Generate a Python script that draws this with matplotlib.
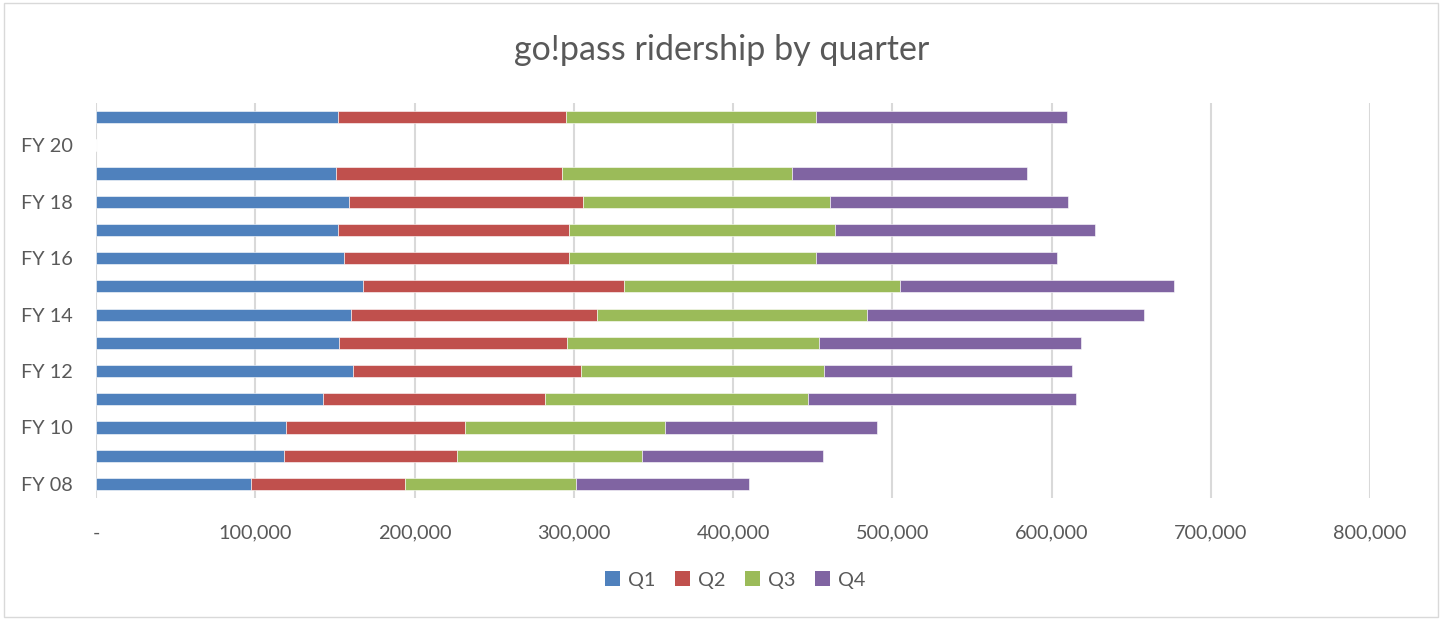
import matplotlib
matplotlib.use("Agg")
import matplotlib.pyplot as plt
from matplotlib.patches import Rectangle, Patch
from matplotlib.ticker import FuncFormatter
import numpy as np

# Данные по кварталам
years = ["FY 08", "FY 09", "FY 10", "FY 11", "FY 12", "FY 13", "FY 14",
         "FY 15", "FY 16", "FY 17", "FY 18", "FY 19", "FY 20", "FY 21"]
q1 = [97500, 118300, 119100, 142800, 161600, 152800, 159900,
      167500, 155700, 152200, 158700, 150900, 0, 152200]
q2 = [96500, 108400, 112600, 139200, 143000, 143000, 154700,
      164100, 141500, 145000, 147300, 141700, 0, 142900]
q3 = [107200, 115900, 125800, 165100, 152800, 158000, 169300,
      173500, 155100, 166800, 154700, 144400, 0, 156800]
q4 = [108800, 113900, 132700, 168100, 155200, 164700, 174200,
      171600, 151400, 163100, 149400, 147800, 0, 157600]
series_names = ["Q1", "Q2", "Q3", "Q4"]
colors = ["#4F81BD", "#C0504D", "#9BBB59", "#8064A2"]
x_ticks = [0, 100000, 200000, 300000, 400000, 500000, 600000, 700000, 800000]

plt.rcParams['font.family'] = ['Lato', 'DejaVu Sans']
W, H = 1443, 620
fig = plt.figure(figsize=(W / 100, H / 100), dpi=100)

# рамка вокруг всей картинки
fig.patches.append(Rectangle((4 / W, 3 / H), 1434 / W, 614 / H, transform=fig.transFigure,
                             facecolor='none', edgecolor='#D9D9D9', linewidth=1))

ax = fig.add_axes([96 / W, (H - 498) / H, (1370 - 96) / W, (498 - 103) / H])

y = np.arange(len(years))
left = np.zeros(len(years))
for vals, name, c in zip([q1, q2, q3, q4], series_names, colors):
    vals = np.array(vals, dtype=float)
    ax.barh(y, vals, left=left, height=0.43, color=c, edgecolor='white',
            linewidth=0.4, label=name, zorder=3)
    left += vals

ax.set_xlim(0, 800000)
ax.set_ylim(-0.5, len(years) - 0.5)
ax.set_xticks(x_ticks)
ax.xaxis.set_major_formatter(FuncFormatter(lambda v, p: "-" if v == 0 else f"{int(v):,}"))
ax.set_yticks(y[::2])
ax.set_yticklabels(years[::2])

ax.grid(axis='x', color='#D9D9D9', linewidth=1.5, zorder=0)
for s in ax.spines.values():
    s.set_visible(False)
ax.tick_params(axis='both', length=0, labelsize=14.3, colors='#595959')
ax.tick_params(axis='x', pad=19)
ax.tick_params(axis='y', pad=17)

fig.text(722 / W, 1 - 50 / H, "go!pass ridership by quarter", ha='center', va='center',
         fontsize=24.5, color='#595959')

handles = [Patch(facecolor=c, label=n) for c, n in zip(colors, series_names)]
fig.legend(handles=handles, loc='center', bbox_to_anchor=(735 / W, 1 - 580 / H), ncol=4,
           frameon=False, fontsize=14.3, handlelength=0.75, handleheight=0.75,
           handletextpad=0.4, columnspacing=1.0, labelcolor='#595959')

fig.savefig("out.png", dpi=100)
